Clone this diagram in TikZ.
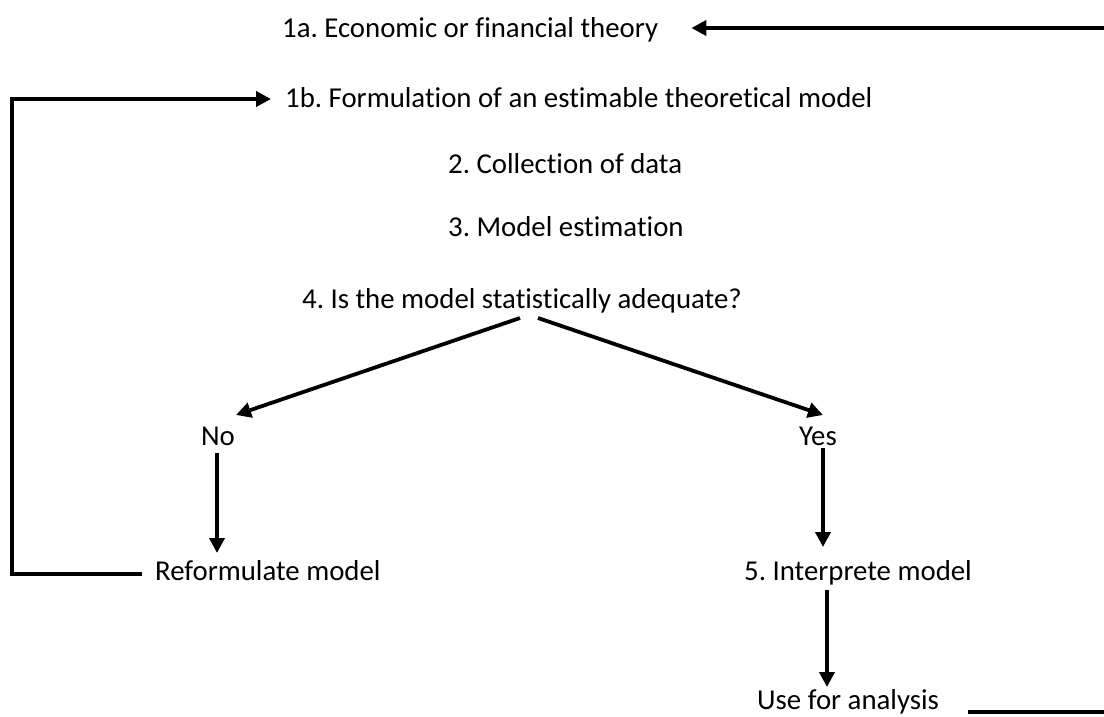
\documentclass[tikz,border=0pt]{standalone}
\usepackage{fontspec}
\setmainfont{Carlito}[Ligatures={NoCommon}]
\usetikzlibrary{arrows.meta,calc}
\begin{document}
\begin{tikzpicture}[x=1pt,y=-1pt,
  lbl/.style={inner sep=0pt,font=\frenchspacing\fontsize{28.8}{34}\selectfont},
  conn/.style={line width=3.8pt},
  arr/.style={conn,-{Triangle[length=15pt,width=15pt]}}]
\useasboundingbox (0,0) rectangle (1104,717);
\node[lbl,anchor=base west] (t1a) at (282,38) {1a. Economic or financial theory};
\node[lbl,anchor=base west] (t1b) at (285,107) {1b. Formulation of an estimable theoretical model};
\node[lbl,anchor=base west] (t2) at (448,173) {2. Collection of data};
\node[lbl,anchor=base west] (t3) at (448,236) {3. Model estimation};
\node[lbl,anchor=base west] (t4) at (302,308) {4. Is the model statistically adequate?};
\node[lbl,anchor=base] (no) at (218,445) {No};
\node[lbl,anchor=base] (yes) at (818,445) {Yes};
\node[lbl,anchor=base west] (ref) at (155,580) {Reformulate model};
\node[lbl,anchor=base west] (interp) at (744,580) {5. Interprete model};
\node[lbl,anchor=base west] (use) at (757,709) {Use for analysis};
\coordinate (lx) at (12,0);
\coordinate (rx) at (1120,0);
% diagonals
\draw[arr] ($(t4.base west)+(218,10)$) -- ($(no.base)+(18,-30)$);
\draw[arr] ($(t4.base west)+(236,10)$) -- ($(yes.base)+(5,-30)$);
% verticals
\draw[arr] ($(no.base)+(-1,8)$) -- ($(ref.base west)+(62,-27)$);
\draw[arr] ($(yes.base)+(5,3)$) -- ($(interp.base west)+(79,-33)$);
\draw[arr] ($(interp.base west)+(83,10)$) -- ($(use.base west)+(70,-22)$);
% feedback from reformulate to 1b
\draw[arr] ($(ref.base west)+(-13,-6)$) -| (lx |- {$(t1b.base west)+(0,-8)$}) -- ($(t1b.base west)+(-14,-8)$);
% loop from use to 1a (vertical part lies outside the picture)
\draw[arr] ($(use.base east)+(29,3)$) -| (rx |- {$(t1a.base east)+(0,-10)$}) -- ($(t1a.base east)+(33,-10)$);
\end{tikzpicture}
\end{document}
